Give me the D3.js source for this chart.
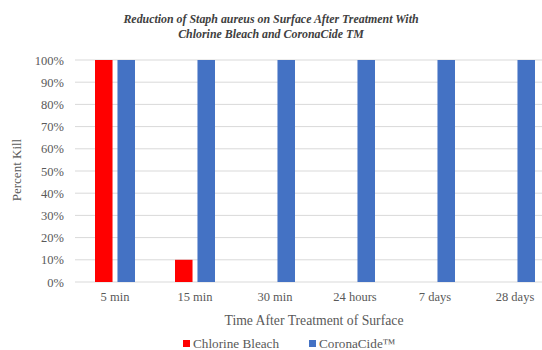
<!DOCTYPE html>
<html>
<head>
<meta charset="utf-8">
<script src="https://cdn.jsdelivr.net/npm/d3@7"></script>
<style>
  body { margin: 0; background: #fff; }
  svg text { font-family: "Liberation Serif", "DejaVu Serif", serif !important; }
</style>
</head>
<body>
<div id="chart"></div>
<script>
// chart data
const categories = ["5 min", "15 min", "30 min", "24 hours", "7 days", "28 days"];
const seriesNames = ["Chlorine Bleach", "CoronaCide™"];
const bleachValues = [1.0, 0.1, 0, 0, 0, 0];
const coronaValues = [1.0, 1.0, 1.0, 1.0, 1.0, 1.0];
const yTicks = [0, 0.1, 0.2, 0.3, 0.4, 0.5, 0.6, 0.7, 0.8, 0.9, 1.0];
const colors = ["#ff0000", "#4472c4"];

const width = 542, height = 350;
const svg = d3.select("#chart")
    .append("svg")
    .attr("width", width)
    .attr("height", height);

// plot area is wider than the picture on the right (cropped like the original)
const xScale = d3.scaleBand()
    .domain(categories)
    .range([75, 555])
    .paddingInner(0.5)
    .paddingOuter(0.25);

const xSub = d3.scaleBand()
    .domain(seriesNames)
    .range([0, xScale.bandwidth()])
    .paddingInner(0.22);

const yScale = d3.scaleLinear()
    .domain([0, 1])
    .range([282, 60]);

// gridlines
svg.append("g")
    .selectAll("line")
    .data(yTicks)
    .enter()
    .append("line")
    .attr("x1", 75)
    .attr("x2", width)
    .attr("y1", d => yScale(d))
    .attr("y2", d => yScale(d))
    .attr("stroke", "#d9d9d9")
    .attr("stroke-width", 1);

// y axis labels
const yAxis = svg.append("g")
    .attr("transform", "translate(64,0)")
    .call(d3.axisLeft(yScale).tickValues(yTicks).tickFormat(d3.format(".0%")).tickSize(0));
yAxis.select(".domain").remove();
yAxis.selectAll("text")
    .attr("x", 0)
    .attr("fill", "#595959")
    .style("font-size", "12.5px");

// bars
const rows = categories.map((c, i) => ({ cat: c, values: [bleachValues[i], coronaValues[i]] }));
const groups = svg.append("g")
    .selectAll("g")
    .data(rows)
    .enter()
    .append("g")
    .attr("transform", d => `translate(${xScale(d.cat)},0)`);

groups.selectAll("rect")
    .data(d => d.values.map((v, j) => ({ name: seriesNames[j], value: v, color: colors[j] })))
    .enter()
    .append("rect")
    .filter(d => d.value > 0)
    .attr("x", d => xSub(d.name))
    .attr("width", xSub.bandwidth())
    .attr("y", d => yScale(d.value))
    .attr("height", d => yScale(0) - yScale(d.value))
    .attr("fill", d => d.color);

// x axis labels
const xAxis = svg.append("g")
    .attr("transform", "translate(0,282)")
    .call(d3.axisBottom(xScale).tickSize(0).tickPadding(10));
xAxis.select(".domain").remove();
xAxis.selectAll("text")
    .attr("fill", "#595959")
    .style("font-size", "12.5px");

// titles
const title = svg.append("text")
    .attr("text-anchor", "middle")
    .attr("fill", "#404040")
    .style("font-size", "11.9px")
    .style("font-weight", "bold")
    .style("font-style", "italic");
title.append("tspan").attr("x", 271).attr("y", 23)
    .text("Reduction of Staph aureus on Surface After Treatment With");
title.append("tspan").attr("x", 271).attr("y", 38)
    .text("Chlorine Bleach and CoronaCide TM");

svg.append("text")
    .attr("transform", "translate(21,170) rotate(-90)")
    .attr("text-anchor", "middle")
    .attr("fill", "#595959")
    .style("font-size", "13px")
    .text("Percent Kill");

svg.append("text")
    .attr("x", 314)
    .attr("y", 325)
    .attr("text-anchor", "middle")
    .attr("fill", "#595959")
    .style("font-size", "13.7px")
    .text("Time After Treatment of Surface");

// legend
const legend = svg.append("g")
    .selectAll("g")
    .data(seriesNames)
    .enter()
    .append("g")
    .attr("transform", (d, i) => `translate(${[183, 309][i]},343)`);

legend.append("rect")
    .attr("width", 7)
    .attr("height", 7)
    .attr("y", -3)
    .attr("fill", (d, i) => colors[i]);

legend.append("text")
    .attr("x", 10)
    .attr("y", 5)
    .attr("fill", "#595959")
    .style("font-size", "13.2px")
    .text(d => d);
</script>
</body>
</html>
